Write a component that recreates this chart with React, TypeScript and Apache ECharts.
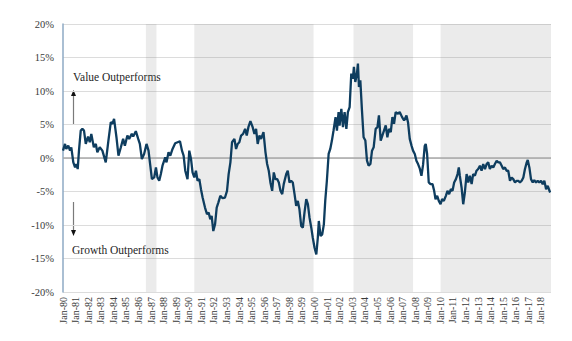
import React, { useEffect, useRef } from "react";
import * as echarts from "echarts";

const years = [
  1980.00, 1980.16, 1980.26, 1980.42, 1980.56, 1980.66, 1980.82, 1980.96, 1981.06, 1981.17,
  1981.27, 1981.41, 1981.54, 1981.67, 1981.81, 1981.99, 1982.13, 1982.25, 1982.45, 1982.61,
  1982.73, 1982.92, 1983.13, 1983.40, 1983.61, 1983.80, 1983.93, 1984.06, 1984.25, 1984.41,
  1984.60, 1984.78, 1984.92, 1985.12, 1985.26, 1985.47, 1985.58, 1985.79, 1985.98, 1986.11,
  1986.27, 1986.45, 1986.64, 1986.80, 1986.91, 1987.07, 1987.25, 1987.39, 1987.51, 1987.65,
  1987.78, 1987.91, 1988.13, 1988.23, 1988.39, 1988.53, 1988.71, 1988.92, 1989.11, 1989.30,
  1989.46, 1989.59, 1989.72, 1989.90, 1990.04, 1990.18, 1990.30, 1990.44, 1990.57, 1990.70,
  1990.84, 1990.97, 1991.10, 1991.29, 1991.45, 1991.58, 1991.71, 1991.82, 1991.95, 1992.09,
  1992.22, 1992.35, 1992.51, 1992.69, 1992.88, 1993.04, 1993.17, 1993.31, 1993.44, 1993.63,
  1993.76, 1993.89, 1994.02, 1994.16, 1994.32, 1994.48, 1994.61, 1994.74, 1994.90, 1995.08,
  1995.22, 1995.35, 1995.48, 1995.62, 1995.75, 1995.94, 1996.10, 1996.23, 1996.36, 1996.49,
  1996.63, 1996.76, 1996.89, 1997.03, 1997.16, 1997.29, 1997.43, 1997.55, 1997.75, 1997.87,
  1998.01, 1998.14, 1998.27, 1998.41, 1998.54, 1998.67, 1998.80, 1998.94, 1999.07, 1999.20,
  1999.34, 1999.47, 1999.60, 1999.74, 1999.86, 2000.00, 2000.14, 2000.26, 2000.34, 2000.48,
  2000.61, 2000.74, 2000.85, 2000.98, 2001.12, 2001.25, 2001.38, 2001.51, 2001.67, 2001.78,
  2001.91, 2001.99, 2002.13, 2002.26, 2002.39, 2002.53, 2002.65, 2002.79, 2002.92, 2003.05,
  2003.13, 2003.24, 2003.37, 2003.45, 2003.53, 2003.64, 2003.77, 2003.90, 2004.04, 2004.17,
  2004.30, 2004.44, 2004.57, 2004.70, 2004.86, 2005.00, 2005.12, 2005.26, 2005.39, 2005.52,
  2005.66, 2005.79, 2005.92, 2006.06, 2006.19, 2006.32, 2006.45, 2006.64, 2006.77, 2006.96,
  2007.12, 2007.31, 2007.43, 2007.57, 2007.71, 2007.83, 2007.97, 2008.10, 2008.23, 2008.37,
  2008.50, 2008.63, 2008.76, 2008.84, 2008.95, 2009.08, 2009.22, 2009.38, 2009.51, 2009.62,
  2009.75, 2009.88, 2010.02, 2010.14, 2010.28, 2010.44, 2010.57, 2010.70, 2010.84, 2010.97,
  2011.10, 2011.24, 2011.37, 2011.47, 2011.55, 2011.69, 2011.82, 2011.95, 2012.09, 2012.22,
  2012.35, 2012.49, 2012.61, 2012.75, 2012.88, 2013.01, 2013.15, 2013.28, 2013.41, 2013.55,
  2013.68, 2013.81, 2013.94, 2014.08, 2014.21, 2014.34, 2014.48, 2014.61, 2014.74, 2014.88,
  2015.00, 2015.14, 2015.27, 2015.40, 2015.54, 2015.67, 2015.80, 2015.94, 2016.07, 2016.20,
  2016.33, 2016.47, 2016.60, 2016.73, 2016.87, 2016.95, 2017.08, 2017.21, 2017.35, 2017.47,
  2017.61, 2017.74, 2017.87, 2018.01, 2018.14, 2018.27, 2018.41, 2018.54, 2018.73,
];

// Relative performance, value minus growth (%)
const spread = [
  1.1, 2.1, 1.35, 1.85, 1.1, 1.6, -0.65, -1.4, -0.9, -1.65,
  1.1, 4.1, 4.35, 4.1, 2.1, 3.2, 2.35, 3.6, 1.6, 2.1,
  0.85, 1.6, 1.1, -0.65, 2.6, 5.35, 5.1, 5.85, 3.1, 0.35,
  1.6, 2.85, 1.85, 3.35, 2.85, 3.6, 3.2, 4.0, 2.85, 2.1,
  -0.15, 0.6, 2.1, 1.1, -0.65, -3.15, -2.9, -1.4, -2.9, -3.4,
  -2.4, -1.15, 0.1, -0.65, 0.85, 0.35, 1.35, 2.2, 2.35, 2.5,
  1.1, 0.35, -1.9, -3.15, 1.1, -0.15, -2.15, -2.9, -1.9, -3.4,
  -3.15, -4.65, -5.9, -7.4, -8.4, -8.15, -9.15, -8.65, -10.9, -9.9,
  -7.4, -6.65, -5.65, -6.0, -5.9, -4.9, -2.4, -0.65, 2.35, 2.85,
  1.35, 2.1, 2.35, 3.35, 3.6, 4.35, 3.35, 4.6, 5.5, 4.6,
  3.6, 4.35, 2.1, 3.35, 2.85, 3.85, 0.85, -0.9, -1.9, -3.65,
  -4.9, -2.15, -3.15, -3.15, -3.65, -4.9, -5.4, -3.9, -2.4, -1.9,
  -3.65, -3.4, -3.65, -5.4, -7.15, -6.4, -7.65, -10.15, -10.4, -8.15,
  -6.15, -6.9, -8.9, -10.4, -11.9, -13.4, -14.4, -11.9, -9.4, -11.65,
  -11.4, -9.9, -6.4, -3.4, 0.6, 1.35, 2.6, 4.1, 6.1, 4.1,
  6.85, 4.85, 7.35, 4.6, 6.85, 4.35, 6.85, 7.6, 12.6, 11.85,
  13.6, 11.35, 12.6, 14.1, 10.6, 11.6, 7.1, 3.1, 2.6, -0.4,
  -1.15, -0.9, 1.1, 1.6, 4.35, 4.6, 6.35, 2.6, 3.35, 4.1,
  4.85, 3.1, 4.35, 3.85, 6.1, 5.1, 6.85, 6.6, 6.85, 6.1,
  5.6, 6.35, 5.35, 2.85, 1.85, 1.1, 0.6, -0.4, -0.9, -1.6,
  -2.65, -1.0, 1.8, 2.1, 0.6, -3.65, -3.9, -3.9, -4.9, -6.15,
  -5.65, -6.4, -6.9, -6.15, -6.4, -5.65, -4.9, -5.4, -4.65, -4.9,
  -3.65, -3.15, -2.4, -1.4, -2.65, -4.4, -6.9, -5.15, -2.4, -3.65,
  -2.65, -3.9, -2.4, -2.65, -1.9, -1.65, -1.15, -1.9, -0.9, -1.65,
  -0.9, -0.65, -1.65, -1.15, -1.4, -0.9, -0.4, -0.65, -0.65, -1.15,
  -1.65, -1.4, -1.9, -1.9, -3.4, -2.9, -3.15, -3.65, -3.4, -3.4,
  -3.65, -3.4, -2.9, -1.65, -0.65, -0.3, -1.4, -3.15, -3.65, -3.3,
  -3.65, -3.4, -3.65, -3.4, -3.9, -3.4, -4.65, -4.15, -5.15,
];

// Shaded periods [start, end] in decimal years
const shadedStart = [1986.59, 1990.44, 2003.10, 2010.02];
const shadedEnd = [1987.43, 1999.92, 2007.83, 2018.8];

const xMin = 1980;
const xMax = 2018.8;
const yTicks = [-20, -15, -10, -5, 0, 5, 10, 15, 20];

const SERIF = "'Liberation Serif', 'DejaVu Serif', serif";

export default function App() {
  const ref = useRef<HTMLDivElement>(null);

  useEffect(() => {
    if (!ref.current) return;
    const chart = echarts.init(ref.current, undefined, { renderer: "svg" });
    const data = years.map((y, i) => [y, spread[i]]);
    const areas = shadedStart.map((s, i) => [{ xAxis: s }, { xAxis: shadedEnd[i] }]);

    chart.setOption({
      animation: false,
      backgroundColor: "#ffffff",
      grid: { left: 63, right: 21, top: 24, bottom: 49, containLabel: false },
      xAxis: {
        type: "value",
        min: xMin,
        max: xMax,
        interval: 1,
        axisLine: { show: false },
        axisTick: { show: false },
        splitLine: { show: false },
        axisLabel: {
          rotate: 90,
          margin: 5,
          fontFamily: SERIF,
          fontSize: 10,
          color: "#3a3a3a",
          formatter: (v: number) =>
            Math.abs(v - Math.round(v)) > 1e-6 ? "" : "Jan-" + String(Math.round(v)).slice(2),
        },
      },
      yAxis: {
        type: "value",
        min: yTicks[0],
        max: yTicks[yTicks.length - 1],
        interval: 5,
        axisLine: { show: true, onZero: false, lineStyle: { color: "#8eaac4", width: 1.5 } },
        axisTick: { show: false },
        splitLine: { show: true, lineStyle: { color: "#dcdcdc", width: 1 } },
        axisLabel: {
          margin: 9,
          fontFamily: SERIF,
          fontSize: 10.5,
          color: "#3a3a3a",
          formatter: "{value}%",
        },
      },
      series: [
        {
          type: "line",
          data,
          showSymbol: false,
          symbol: "none",
          lineStyle: { color: "#0e3d5f", width: 2.3 },
          z: 5,
          markArea: {
            silent: true,
            itemStyle: { color: "rgba(128,128,128,0.16)" },
            data: areas,
          },
          markLine: {
            silent: true,
            symbol: "none",
            label: { show: false },
            lineStyle: { color: "#a8a8a8", width: 1.5, type: "solid" },
            data: [{ yAxis: 0 }],
          },
        },
      ],
      graphic: [
        {
          type: "text",
          left: 73,
          top: 71,
          style: { text: "Value Outperforms", fontFamily: SERIF, fontSize: 11.5, fill: "#1f1f1f" },
        },
        {
          type: "text",
          left: 72,
          top: 244,
          style: { text: "Growth Outperforms", fontFamily: SERIF, fontSize: 11.5, fill: "#1f1f1f" },
        },
        {
          type: "line",
          shape: { x1: 73.5, y1: 125, x2: 73.5, y2: 95 },
          style: { stroke: "#7a7a7a", lineWidth: 1.2 },
        },
        {
          type: "polygon",
          shape: { points: [[73.5, 90], [71, 96], [76, 96]] },
          style: { fill: "#111" },
        },
        {
          type: "line",
          shape: { x1: 73.5, y1: 202, x2: 73.5, y2: 231 },
          style: { stroke: "#7a7a7a", lineWidth: 1.2 },
        },
        {
          type: "polygon",
          shape: { points: [[73.5, 236], [71, 230], [76, 230]] },
          style: { fill: "#111" },
        },
      ],
    });

    return () => chart.dispose();
  }, []);

  return (
    <div
      ref={ref}
      style={{ position: "fixed", left: 0, top: 0, width: 572, height: 341 }}
    />
  );
}
